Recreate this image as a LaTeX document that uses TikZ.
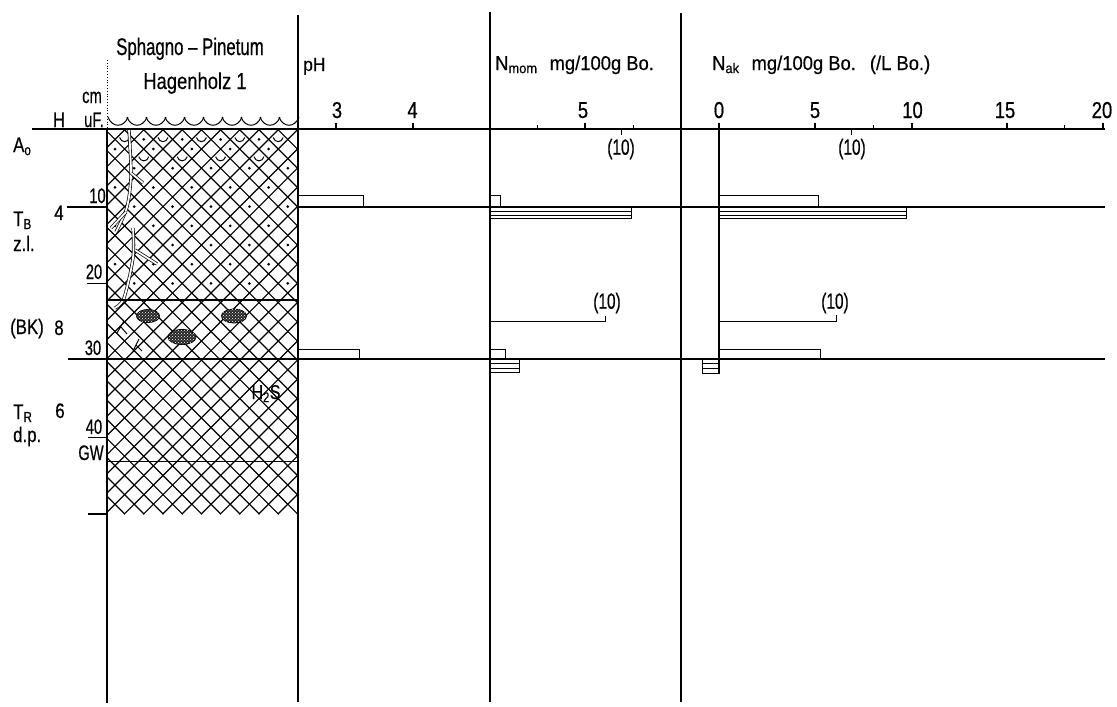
\documentclass[tikz,border=0pt]{standalone}
\usepackage{fontspec}
\setmainfont{Liberation Sans}[FakeStretch=0.8, FakeBold=0.5]
\newfontfamily\condfont{Liberation Sans}[FakeStretch=0.7, FakeBold=0.5]
\newfontfamily\widefont{Liberation Sans}[FakeStretch=0.92, FakeBold=0.4]
\usetikzlibrary{patterns}
\begin{document}
\begin{tikzpicture}[x=1pt, y=-1pt,
        mainline/.style={line width=1.3pt},
        hatchline/.style={line width=1.2pt},
        barline/.style={line width=1pt},
        lbl/.style={inner sep=0pt, font=\fontsize{21}{21}\selectfont},
        condlbl/.style={inner sep=0pt, font=\condfont\fontsize{21}{21}\selectfont},
        headlbl/.style={inner sep=0pt, anchor=base west, font=\widefont\fontsize{20}{20}\selectfont},
        axisnum/.style={inner sep=0pt, anchor=base, font=\fontsize{23}{23}\selectfont},
        root/.style={double=white, double distance=1.8pt, line width=0.7pt},
        concretion/.style={draw, line width=0.9pt, fill=black!85,
            postaction={pattern=crosshatch dots, pattern color=white}}]
    \useasboundingbox (0,0) rectangle (1117,707);

    % profile hatching, diamond grid with zigzag bottom
    \begin{scope}
        \clip (107,129) -- (298,129) -- (298,514.5)
            \foreach \i in {19,18,...,0}{ -- ({115+9.6*\i},{505+9.6*mod(\i,2)}) } -- (107,513) -- cycle;
        \foreach \c in {-3,-1,...,59}
            \draw[hatchline] (90,{264+9.6*\c-90}) -- (320,{264+9.6*\c-320});
        \foreach \c in {-41,-39,...,23}
            \draw[hatchline] (90,{124-9.6*\c}) -- (320,{354-9.6*\c});
    \end{scope}

    % dots of A_o and T_B
    \foreach \j/\s in {0/0,2/2,4/0,6/2,8/0,10/2,12/0,14/2}
        \foreach \k in {0,...,4}
            \fill ({115+9.6*(\s+4*\k)},{149+9.6*\j}) circle (1.5);
    \foreach \i in {3,7,11,15}
        \fill ({115+9.6*\i},139.4) circle (1.5);
    % moss arcs
    \foreach \i in {1,5,9,13,17}
        \draw[barline] ({110+9.6*\i},137.5) .. controls ({111.5+9.6*\i},143) and ({118.5+9.6*\i},143) .. ({120+9.6*\i},137.5);
    \foreach \i in {3,7,11,15}
        \draw[barline] ({110+9.6*\i},156.7) .. controls ({111.5+9.6*\i},162.2) and ({118.5+9.6*\i},162.2) .. ({120+9.6*\i},156.7);
    \foreach \k in {0,...,9}
        \draw[barline] ({108+19*\k},117) .. controls ({112+19*\k},128) and ({124+19*\k},128) .. ({128+19*\k},117);

    % roots
    \draw[root] plot[smooth] coordinates {(129,130) (131,175) (127,207) (116,232)};
    \draw[root] (131,173) -- (143,183);
    \draw[root] (126,212) -- (111,228);
    \draw[root] plot[smooth] coordinates {(133,228) (133,258) (124,298) (115,308)};
    \draw[root] (135,250) -- (157,264);
    \draw[barline] (117,333) -- (124,321) (121,327) -- (127,334);
    \draw[barline] (133,351) -- (139,339) (136,345) -- (142,351);

    % concretions in BK
    \draw[concretion] (148,316) ellipse [x radius=11.5, y radius=6.5];
    \draw[concretion] (182,337) ellipse [x radius=14, y radius=7.5];
    \draw[concretion] (234,316) ellipse [x radius=12.5, y radius=7];

    % frame and layer lines
    \draw[mainline] (32,129) -- (1105,129);
    \draw[mainline] (67,207) -- (107,207) (298,207) -- (1105,207);
    \draw[mainline] (68,359) -- (1105,359);
    \draw[mainline] (107,300) -- (298,300);
    \draw[mainline] (107,461.5) -- (298,461.5);
    \draw[mainline] (107,129) -- (107,703);
    \draw[dotted, line width=0.8pt] (107,60) -- (107,129);
    \draw[mainline] (298,15) -- (298,702);
    \draw[mainline] (490,12) -- (490,702);
    \draw[mainline] (681,13) -- (681,702);
    \draw[mainline] (719,123) -- (719,373);
    \draw[barline] (87,283) -- (107,283) (88,437) -- (107,437);
    \draw[line width=1.8pt] (88,514) -- (107,514);

    % axis ticks
    \foreach \x in {336,413,585,815,912,1007,1103}
        \draw[mainline] (\x,129) -- (\x,123);
    \foreach \x in {537,633,873,1064}
        \draw[barline] (\x,129) -- (\x,125);
    \foreach \x in {621,851}
        \draw[barline] (\x,129) -- (\x,135);

    % bars
    \draw[barline] (298,195) -- (363,195) -- (363,207);
    \draw[barline] (298,349.5) -- (359,349.5) -- (359,359);
    \draw[barline] (490,195) -- (500,195) -- (500,207);
    \draw[barline] (490,207) rectangle (631,218.5) (490,211) -- (631,211) (490,215) -- (631,215);
    \draw[barline] (719,195) -- (818,195) -- (818,207);
    \draw[barline] (719,207) rectangle (906,218.5) (719,211) -- (906,211) (719,215) -- (906,215);
    \draw[barline] (490,321.7) -- (605,321.7) -- (605,315.5);
    \draw[barline] (719,321) -- (836,321) -- (836,315);
    \draw[barline] (490,349.5) -- (505,349.5) -- (505,359);
    \draw[barline] (490,359) rectangle (519,372.5) (490,363.5) -- (519,363.5) (490,368) -- (519,368);
    \draw[barline] (719,349.5) -- (820,349.5) -- (820,359);
    \draw[barline] (702,359) rectangle (719,373) (702,363.5) -- (719,363.5) (702,368) -- (719,368);

    % titles and headers
    \node[condlbl, anchor=base, font=\condfont\fontsize{24}{24}\selectfont] (title) at (190,55) {Sphagno – Pinetum};
    \node[lbl, anchor=base, font=\fontsize{23}{23}\selectfont] (site) at (195,89) {Hagenholz 1};
    \node[headlbl, font=\widefont\fontsize{19}{19}\selectfont] (phhead) at (303,71) {pH};
    \node[headlbl] (nmomhead) at (495,70) {N\textsubscript{mom}\hspace{12pt}mg/100g Bo.};
    \node[headlbl] (nakhead) at (712,70) {N\textsubscript{ak}\hspace{12pt}mg/100g Bo.\hspace{14pt}(/L Bo.)};

    % axis numbers
    \node[axisnum] (ph3) at (337,118) {3};
    \node[axisnum] (ph4) at (412.5,118) {4};
    \node[axisnum] (nmom5) at (583,118) {5};
    \node[axisnum] (nak0) at (719,118) {0};
    \node[axisnum] (nak5) at (815,118) {5};
    \node[axisnum] (nak10) at (912.5,118) {10};
    \node[axisnum] (nak15) at (1005,118) {15};
    \node[axisnum] (nak20) at (1102,118) {20};
    \node[condlbl, font=\condfont\fontsize{22}{22}\selectfont] (nmomten) at (621,149) {(10)};
    \node[condlbl, font=\condfont\fontsize{22}{22}\selectfont] (nakten) at (852,149) {(10)};
    \node[condlbl, font=\condfont\fontsize{22}{22}\selectfont] (nmombk) at (607,303) {(10)};
    \node[condlbl, font=\condfont\fontsize{22}{22}\selectfont] (nakbk) at (835,303) {(10)};

    % horizon labels
    \node[lbl, anchor=base] (hcol) at (59,127) {H};
    \node[condlbl, anchor=base] (cm) at (92,103) {cm};
    \node[condlbl, anchor=base] (uf) at (94,127) {uF.};
    \node[lbl, anchor=base west] (ao) at (13,152) {A\textsubscript{o}};
    \node[lbl, anchor=base west] (tb) at (13,226) {T\textsubscript{B}};
    \node[lbl, anchor=base] (tbh) at (59,220) {4};
    \node[lbl, anchor=base west] (zl) at (13,251) {z.l.};
    \node[lbl, anchor=base west] (bk) at (10,334) {(BK)};
    \node[lbl, anchor=base] (bkh) at (59,335) {8};
    \node[lbl, anchor=base west] (tr) at (13,419) {T\textsubscript{R}};
    \node[lbl, anchor=base] (trh) at (60,418) {6};
    \node[lbl, anchor=base west] (dp) at (13,442) {d.p.};
    \node[condlbl, anchor=base] (d10) at (97.5,203) {10};
    \node[condlbl, anchor=base] (d20) at (94,279) {20};
    \node[condlbl, anchor=base] (d30) at (93,355) {30};
    \node[condlbl, anchor=base] (d40) at (94,434) {40};
    \node[condlbl, anchor=base] (gw) at (91,460) {GW};
    \node[lbl, anchor=base, font=\fontsize{20}{20}\selectfont] (hts) at (266,399) {H\textsubscript{2}S};
\end{tikzpicture}
\end{document}
